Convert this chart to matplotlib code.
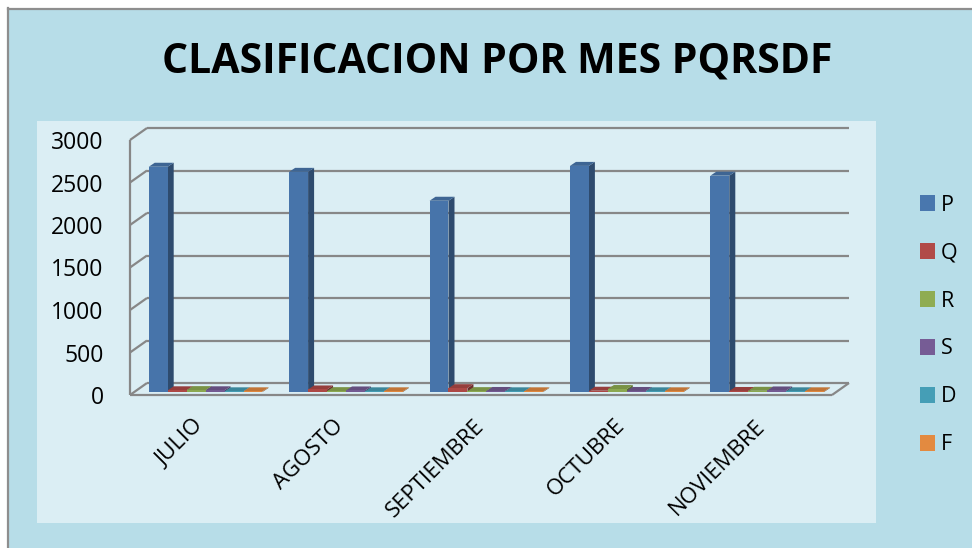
import numpy as np
import matplotlib.pyplot as plt
from matplotlib.patches import Rectangle, Polygon, Patch
from matplotlib.lines import Line2D
from matplotlib.transforms import IdentityTransform, offset_copy
from matplotlib.colors import to_rgb

plt.rcParams['font.family'] = ['Open Sans', 'DejaVu Sans']

# datos
meses = ['JULIO', 'AGOSTO', 'SEPTIEMBRE', 'OCTUBRE', 'NOVIEMBRE']
series = ['P', 'Q', 'R', 'S', 'D', 'F']
P = [2650, 2590, 2250, 2660, 2545]
Q = [20, 30, 45, 15, 12]
R = [22, 10, 10, 35, 14]
S = [20, 18, 12, 12, 18]
D = [8, 8, 8, 8, 8]
F = [8, 8, 8, 8, 8]
valores = [P, Q, R, S, D, F]
yticks = [0, 500, 1000, 1500, 2000, 2500, 3000]
colores = ['#4F81BD', '#C0504D', '#9BBB59', '#8064A2', '#4BACC6', '#F79646']

W, H = 972, 548
fig = plt.figure(figsize=(W / 100, H / 100), dpi=100)
fig.patch.set_facecolor('white')


def shade(c, k):
    r, g, b = to_rgb(c)
    return (r * k, g * k, b * k)


# fondo del grafico y area de trazado (pixeles, origen arriba-izquierda)
fig.add_artist(Rectangle((8 / W, 0), 1 - 8 / W, 1 - 8 / H, transform=fig.transFigure,
                         facecolor='#b7dde8', edgecolor='none', zorder=0))
fig.add_artist(Line2D([8 / W, 1], [1 - 8.5 / H, 1 - 8.5 / H], transform=fig.transFigure,
                      color='#8e8e8e', lw=1.6, zorder=1))
fig.add_artist(Line2D([8 / W, 8 / W], [0, 1 - 8 / H], transform=fig.transFigure,
                      color='#8e8e8e', lw=1.6, zorder=1))
fig.add_artist(Rectangle((37 / W, 1 - 523 / H), (876 - 37) / W, (523 - 121) / H,
                         transform=fig.transFigure, facecolor='#dbeef4',
                         edgecolor='none', zorder=0))

ax = fig.add_axes([130 / W, 1 - 395 / H, (832 - 130) / W, (395 - 140) / H])
ax.set_xlim(0, 5)
ax.set_ylim(0, 3000)
ax.patch.set_visible(False)
for sp in ax.spines.values():
    sp.set_visible(False)

DEPTH = (17, 12)   # fondo del piso (pixeles)
BF = (4, 3)        # cara frontal de las barras
BB = (10, 7)       # cara trasera de las barras


def disp(x, y, off=(0, 0)):
    p = ax.transData.transform((x, y))
    return (p[0] + off[0], p[1] + off[1])


gris = '#878787'


def linea(a, b):
    ax.add_line(Line2D([a[0], b[0]], [a[1], b[1]], transform=IdentityTransform(),
                       color=gris, lw=1.6, clip_on=False, zorder=1,
                       solid_capstyle='butt'))


for v in yticks:
    linea(disp(0, v, DEPTH), disp(5, v, DEPTH))
    linea(disp(0, v), disp(0, v, DEPTH))
linea(disp(0, 0), disp(0, 3000))
linea(disp(0, 0), disp(5, 0))
linea(disp(5, 0), disp(5, 0, DEPTH))

# barras 3D
w = 0.135
x0 = 0.105
tr_front = offset_copy(ax.transData, fig, x=BF[0], y=BF[1], units='dots')
for i in range(len(meses)):
    for j, vals in enumerate(valores):
        x = i + x0 + j * w
        h = vals[i]
        c = colores[j]
        z = 3 + i * 10 + j
        side = [disp(x + w, 0, BF), disp(x + w, 0, BB), disp(x + w, h, BB), disp(x + w, h, BF)]
        top = [disp(x, h, BF), disp(x + w, h, BF), disp(x + w, h, BB), disp(x, h, BB)]
        ax.add_patch(Polygon(side, closed=True, transform=IdentityTransform(),
                             facecolor=shade(c, 0.58), edgecolor='none', zorder=z, clip_on=False))
        ax.add_patch(Polygon(top, closed=True, transform=IdentityTransform(),
                             facecolor=shade(c, 0.78), edgecolor='none', zorder=z, clip_on=False))
        ax.bar(x, h, width=w, align='edge', color=shade(c, 0.9), transform=tr_front,
               zorder=z, clip_on=False, linewidth=0)

ax.set_xlim(0, 5)
ax.set_ylim(0, 3000)

ax.set_yticks(yticks)
ax.set_yticklabels([str(v) for v in yticks], fontsize=16.5)
ax.tick_params(axis='y', length=0, pad=19)
ax.set_xticks(np.arange(len(meses)) + 0.5)
ax.set_xticklabels(meses, fontsize=16, rotation=45, ha='right', va='center',
                   rotation_mode='anchor')
ax.tick_params(axis='x', length=0, pad=20)

fig.text(0.511, 1 - 62 / H, 'CLASIFICACION POR MES PQRSDF', ha='center', va='center',
         fontsize=29.5, fontweight='bold', color='black')

handles = [Patch(facecolor=shade(c, 0.92), edgecolor='none') for c in colores]
fig.legend(handles, series, loc='center left', bbox_to_anchor=(920 / W, 1 - 325 / H),
           frameon=False, fontsize=15.5, handlelength=0.68, handleheight=0.75,
           labelspacing=1.25, handletextpad=0.3, borderpad=0, borderaxespad=0)

fig.savefig('out.png', dpi=100, facecolor=fig.get_facecolor())
